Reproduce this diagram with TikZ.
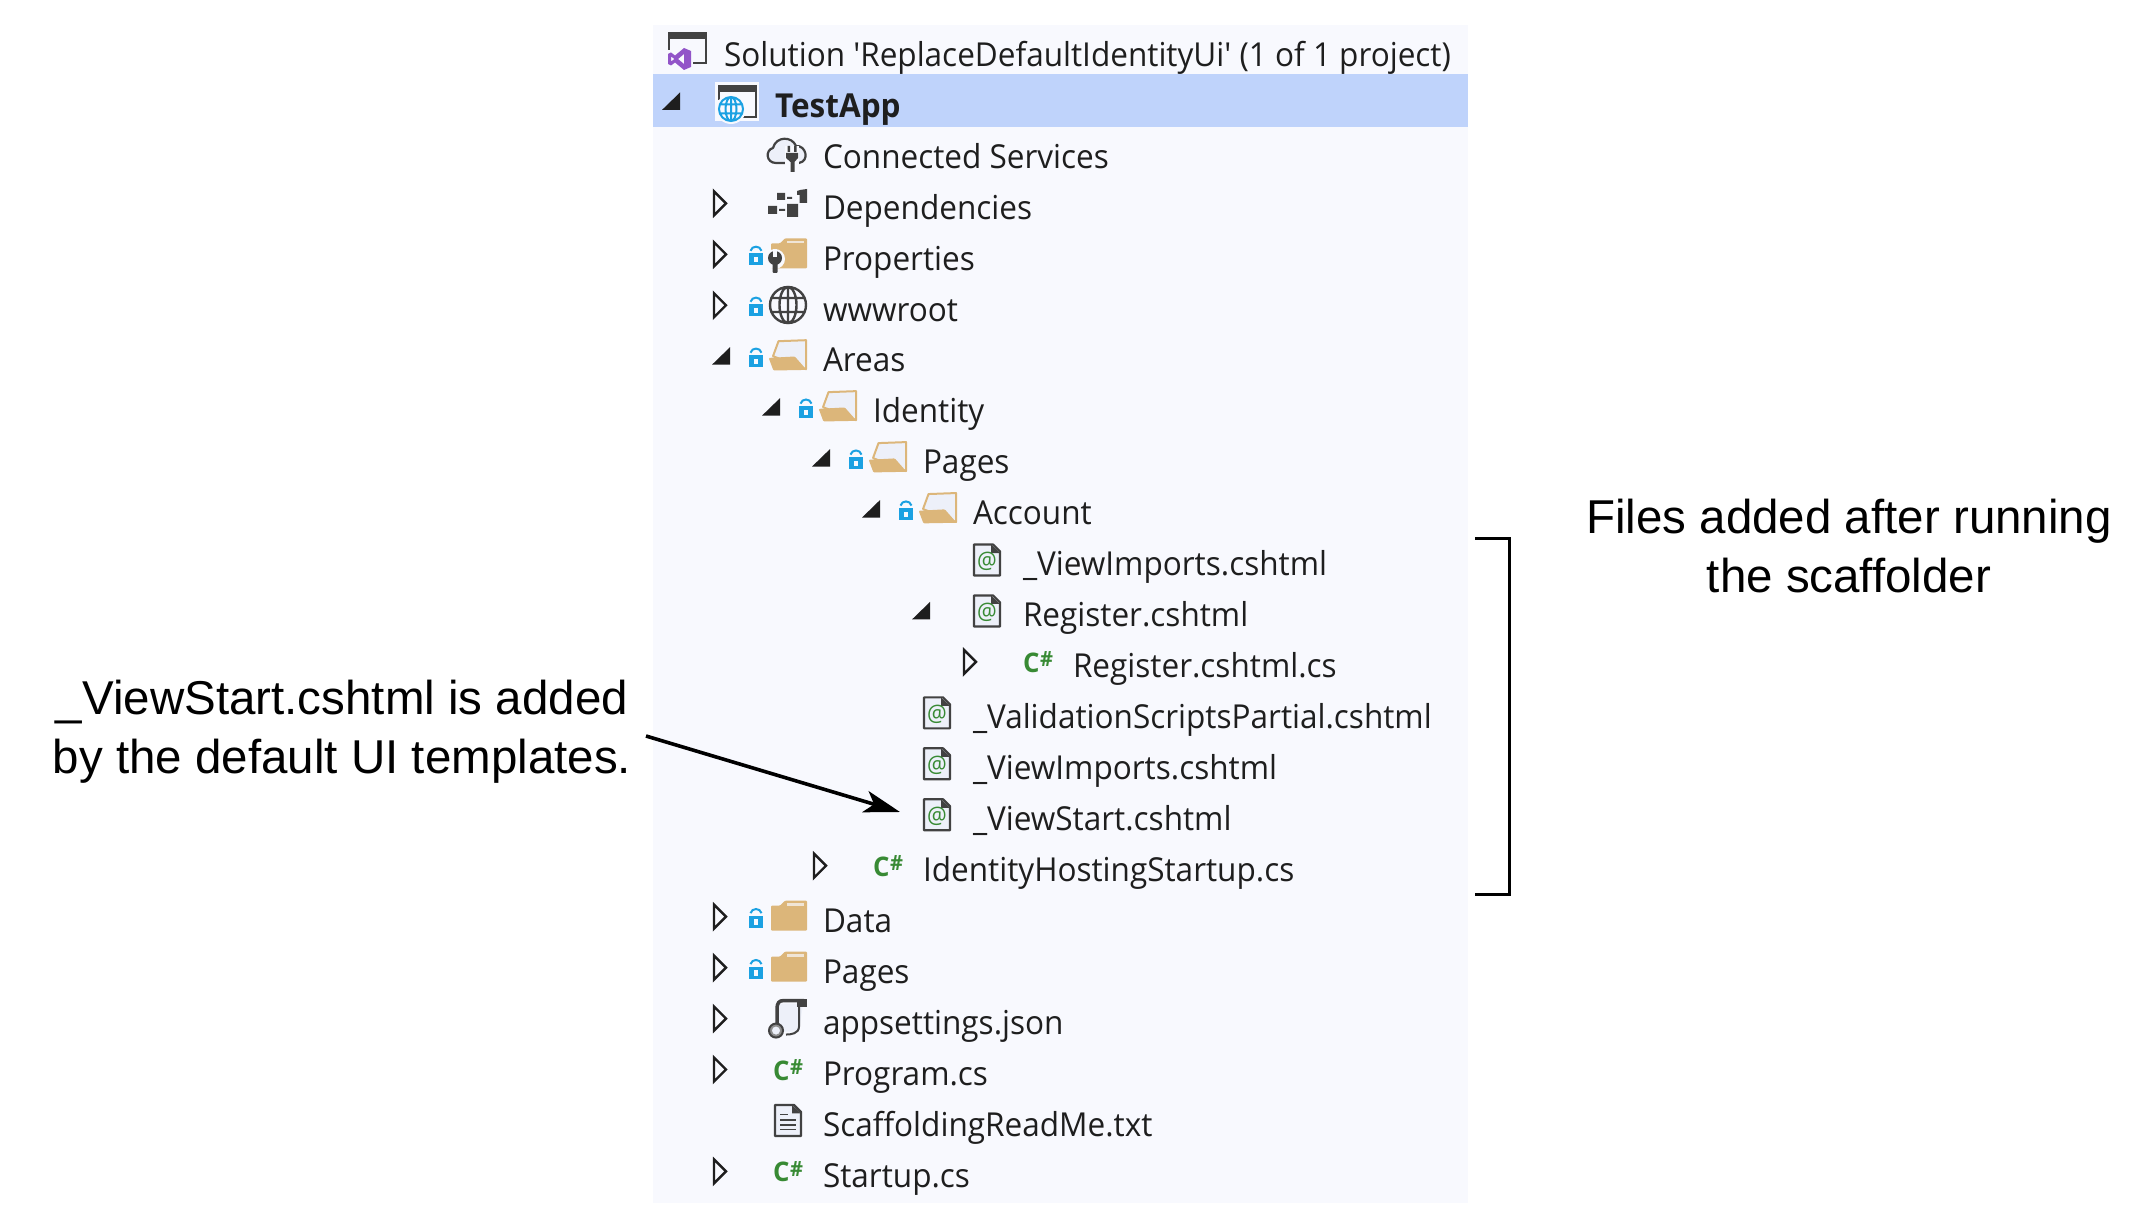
\documentclass[tikz,border=0pt]{standalone}
\usepackage{fontspec}
\setmainfont{Liberation Sans}
\newfontfamily\uifont[FakeStretch=0.955]{Open Sans}
\usetikzlibrary{arrows.meta}
\definecolor{panelbg}{HTML}{F8F9FE}
\definecolor{rowsel}{HTML}{BFD3FB}
\definecolor{uiink}{HTML}{1E1E1E}
\definecolor{uidark}{HTML}{424242}
\definecolor{foldertan}{HTML}{DCB67A}
\definecolor{lockblue}{HTML}{1BA1E2}
\definecolor{csgreen}{HTML}{388A34}
\definecolor{vspurple}{HTML}{9254C8}
\definecolor{paper}{HTML}{EDF0F9}
\tikzset{
  uitext/.style={anchor=base west,inner sep=0pt,outer sep=0pt,text=uiink,font=\uifont\fontsize{33}{33}\selectfont},
  uibold/.style={uitext,font=\uifont\bfseries\fontsize{33}{33}\selectfont},
  note/.style={align=center,inner sep=0pt,outer sep=0pt,text=black,font=\fontsize{47.5}{59}\selectfont},
  iconline/.style={draw=uidark,line width=2.2pt,line join=round},
  hollowtri/.style={draw=uiink,line width=2.4pt,line join=miter,fill=panelbg},
  leader/.style={draw=black,line width=3.6pt},
  pointer/.style={leader,-{Stealth[length=36pt,width=22pt,inset=9pt]}}
}
\newcommand{\rowtext}[4]{\node[uitext] (#1) at ({823+50*(#2-1)},{66.3+50.95*#3}) {#4};}
\newcommand{\atrow}[2]{\begin{scope}[shift={(#1,{53.5+50.95*#2})}]}
\newcommand{\hollow}[2]{\atrow{{714+50*(#1-1)}}{#2}\draw[hollowtri] (0,-15) -- (12,-3) -- (0,9) -- cycle;\end{scope}}
\newcommand{\solid}[2]{\atrow{{662+50*#1}}{#2}\fill[uiink] (0,5.5) -- (18,5.5) -- (18,-12) -- cycle;\end{scope}}
\newcommand{\lockicon}[2]{\atrow{{756+50*(#1-1)}}{#2}
  \fill[lockblue] (-7,-4) rectangle (7,8);
  \fill[panelbg] (-1.8,-0.5) rectangle (1.8,5);
  \draw[lockblue,line width=2pt] (-5.5,-6.5) .. controls (-4,-12) and (4,-12) .. (5.5,-6.5);
  \end{scope}}
\newcommand{\closedfolder}[2]{\atrow{{771+50*(#1-1)}}{#2}
  \fill[foldertan,rounded corners=1pt] (0,-14) -- (9,-14) -- (14,-19) -- (36,-19) -- (36,11) -- (0,11) -- cycle;
  \fill[panelbg!70!foldertan] (16,-16.5) rectangle (33,-14);
  \end{scope}}
\newcommand{\openfolder}[2]{\atrow{{768+50*(#1-1)}}{#2}
  \draw[foldertan,fill=paper,line width=2pt,line join=round] (5,-3) -- (10.5,-18) -- (38,-19) -- (38,10) -- cycle;
  \fill[foldertan,rounded corners=1pt] (0.7,-1.3) -- (26.8,-2.7) -- (38.6,10.7) -- (5.4,11.3) -- cycle;
  \end{scope}}
\newcommand{\fileicon}[3]{\atrow{{787+50*(#2-1)}}{#3}
  \draw[iconline,fill=paper] (-13,-18.5) -- (6,-18.5) -- (13,-11.5) -- (13,12.5) -- (-13,12.5) -- cycle;
  \fill[uidark] (4,-18.5) -- (13,-10) -- (4,-10) -- cycle;
  \node[inner sep=0pt,text=csgreen,font=\uifont\fontsize{23}{23}\selectfont] (#1) at (0,-1.5) {@};
  \end{scope}}
\newcommand{\csicon}[3]{\atrow{{773+50*(#2-1)}}{#3}
  \node[anchor=base west,inner sep=0pt,text=csgreen,font=\uifont\bfseries\fontsize{27}{27}\selectfont] (#1) at (0,7.5) {C\kern0.5pt\raisebox{5.5pt}{\fontsize{21}{21}\selectfont\#}};
  \end{scope}}
\begin{document}
\begin{tikzpicture}[x=1pt,y=-1pt]
\useasboundingbox (0,0) rectangle (2155,1230);
\fill[white] (0,0) rectangle (2155,1230);
\fill[panelbg] (653,25) rectangle (1468,1203);
\fill[rowsel] (653,74) rectangle (1468,127);

% solution row
\fill[uidark] (668,32) rectangle (707,39.5);
\draw[uidark,line width=2pt] (669,39) -- (669,50) (706,39) -- (706,63.5) -- (693,63.5);
\fill[vspurple,even odd rule] (668,54) -- (671,52.5) -- (675,55.5) -- (684,48) -- (691,51) -- (691,67) -- (684,70) -- (675,62.5) -- (671,65.5) -- (668,64) -- cycle
  (684,54) -- (684,64) -- (678,59) -- cycle (671,56.5) -- (674.5,59) -- (671,61.5) -- cycle;
\node[uitext] (solution) at (724,66.3) {Solution 'ReplaceDefaultIdentityUi' (1 of 1 project)};

% project row
\solid{0}{1}
\fill[panelbg] (715,82) rectangle (759,121);
\fill[uidark] (718,85) rectangle (757,92);
\draw[uidark,line width=2pt] (719,92) -- (719,100) (756,92) -- (756,117.5) -- (742,117.5);
\fill[panelbg] (731,109) circle (15pt);
\draw[lockblue,line width=2pt] (731,109) circle (12pt) (731,109) ellipse (5.5pt and 12pt) (731,97) -- (731,121) (720,104.5) -- (742,104.5) (720,113.5) -- (742,113.5);
\node[uibold] (testapp) at (775,117.3) {TestApp};

% connected services
\draw[iconline,fill=paper] (776,163) .. controls (766,163) and (765,150) .. (773,148) .. controls (776,136) and (792,136) .. (796,146) .. controls (806,145) and (810,161) .. (799,163) -- cycle;
\fill[panelbg] (785,146) rectangle (799,165);
\fill[uidark] (786,153) -- (798,153) -- (798,158) -- (794.5,162) -- (794.5,172) -- (790.5,172) -- (790.5,162) -- (786,158) -- cycle;
\fill[uidark] (787.5,146) rectangle (790,152) (794,146) rectangle (796.5,152);
\rowtext{t2}{1}{2}{Connected Services}

% dependencies
\hollow{1}{3}
\fill[uidark] (777,193) rectangle (785,200) (768,206) rectangle (777,214) (787,204) rectangle (798,217);
\fill[uidark] (800,190) -- (807,189) -- (807,203) -- (799.5,203) -- (799.5,195) -- (797,195) -- (797,191) -- cycle;
\fill[uidark] (787,197) rectangle (792,199) (779,209) rectangle (785,211);
\rowtext{t3}{1}{3}{Dependencies}

% properties
\hollow{1}{4}
\lockicon{1}{4}
\closedfolder{1}{4}
\fill[panelbg] (775,259) circle (10pt);
\fill[uidark] (775,258) circle (7pt);
\fill[panelbg] (773,249) rectangle (777,257);
\fill[uidark,rounded corners=1pt] (772.5,260) rectangle (777.5,273);
\rowtext{t4}{1}{4}{Properties}

% wwwroot
\hollow{1}{5}
\lockicon{1}{5}
\draw[uidark,line width=2.4pt] (788,305) circle (18pt) (788,305) ellipse (8.5pt and 18pt) (788,287) -- (788,323) (772,298) -- (804,298) (772,312) -- (804,312);
\rowtext{t5}{1}{5}{wwwroot}

% areas ... account
\solid{1}{6}\lockicon{1}{6}\openfolder{1}{6}
\rowtext{t6}{1}{6}{Areas}
\solid{2}{7}\lockicon{2}{7}\openfolder{2}{7}
\rowtext{t7}{2}{7}{Identity}
\solid{3}{8}\lockicon{3}{8}\openfolder{3}{8}
\rowtext{t8}{3}{8}{Pages}
\solid{4}{9}\lockicon{4}{9}\openfolder{4}{9}
\rowtext{t9}{4}{9}{Account}

% files
\fileicon{i10}{5}{10}
\rowtext{t10}{5}{10}{\_ViewImports.cshtml}
\solid{5}{11}\fileicon{i11}{5}{11}
\rowtext{t11}{5}{11}{Register.cshtml}
\hollow{6}{12}\csicon{i12}{6}{12}
\rowtext{t12}{6}{12}{Register.cshtml.cs}
\fileicon{i13}{4}{13}
\rowtext{t13}{4}{13}{\_ValidationScriptsPartial.cshtml}
\fileicon{i14}{4}{14}
\rowtext{t14}{4}{14}{\_ViewImports.cshtml}
\fileicon{i15}{4}{15}
\rowtext{t15}{4}{15}{\_ViewStart.cshtml}
\hollow{3}{16}\csicon{i16}{3}{16}
\rowtext{t16}{3}{16}{IdentityHostingStartup.cs}

% lower rows
\hollow{1}{17}\lockicon{1}{17}\closedfolder{1}{17}
\rowtext{t17}{1}{17}{Data}
\hollow{1}{18}\lockicon{1}{18}\closedfolder{1}{18}
\rowtext{t18}{1}{18}{Pages}
\hollow{1}{19}
\atrow{771}{19}
  \fill[paper] (8,-18) -- (32,-18) -- (28,10) -- (8,10) -- cycle;
  \draw[uidark,line width=3.5pt] (6,8) -- (6,-12) .. controls (6,-19) and (8,-21) .. (13,-21) -- (33,-21);
  \fill[uidark] (26,-22.5) -- (36,-22.5) -- (36,-15) -- (26,-15) -- cycle;
  \draw[uidark,line width=2pt] (28,-15) -- (28,5) .. controls (28,12) and (20,13) .. (15,13);
  \draw[uidark!60,line width=2.5pt,fill=paper] (5,9) circle (5.5pt);
  \draw[uidark,line width=2pt] (5,9) circle (7pt);
\end{scope}
\rowtext{t19}{1}{19}{appsettings.json}
\hollow{1}{20}\csicon{i20}{1}{20}
\rowtext{t20}{1}{20}{Program.cs}
\atrow{788}{21}
  \draw[iconline,fill=paper] (-13,-18.5) -- (6,-18.5) -- (13,-11.5) -- (13,12.5) -- (-13,12.5) -- cycle;
  \fill[uidark] (4,-18.5) -- (13,-10) -- (4,-10) -- cycle;
  \draw[uidark,line width=1.8pt] (-8,-9) -- (0,-9) (-8,-3.5) -- (8,-3.5) (-8,1.5) -- (8,1.5) (-8,6) -- (8,6);
\end{scope}
\rowtext{t21}{1}{21}{ScaffoldingReadMe.txt}
\hollow{1}{22}\csicon{i22}{1}{22}
\rowtext{t22}{1}{22}{Startup.cs}

% annotations
\node[note] (leftnote) at (342,731.5) {\_ViewStart.cshtml is added\\by the default UI templates.};
\node[note] (rightnote) at (1849,546.5) {Files added after running\\the scaffolder};
\coordinate (arrowfrom) at (646,736);
\coordinate (arrowto) at (900,812);
\draw[pointer] (arrowfrom) -- (arrowto);
\coordinate (brtop) at (1475,538);
\coordinate (brtopr) at (1509,538);
\coordinate (brbotr) at (1509,894);
\coordinate (brbot) at (1475,894);
\draw[leader,line width=3pt,line join=miter] (brtop) -- (brtopr) -- (brbotr) -- (brbot);
\end{tikzpicture}
\end{document}
